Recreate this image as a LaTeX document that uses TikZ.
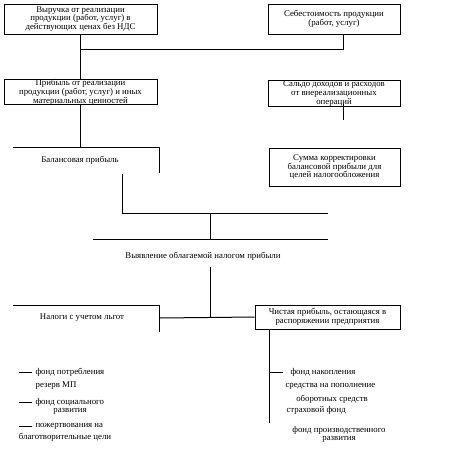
\documentclass[tikz,border=0pt]{standalone}
\usepackage{fontspec}
\setmainfont{Liberation Serif}
\begin{document}
\begin{tikzpicture}[x=0.75pt,y=-0.75pt,line width=0.75pt,
  every node/.style={font=\fontsize{6.6}{6.6}\selectfont,inner sep=0pt,align=center},
  boxnode/.style={draw,minimum width=#1*0.75pt},
  plain/.style={}]
\useasboundingbox (0,0) rectangle (463,458);
% boxes
\node[boxnode=153,minimum height=22.5pt] (b1) at (80.5,19) {Выручка от реализации\\продукции (работ, услуг) в\\действующих ценах без НДС};
\node[boxnode=132,minimum height=22.5pt] (b2) at (334,19) {Себестоимость продукции\\(работ, услуг)};
\node[boxnode=153,minimum height=18pt] (b3) at (80.5,92) {Прибыль от реализации\\продукции (работ, услуг) и иных\\материальных ценностей};
\node[boxnode=132,minimum height=15.75pt] (b4) at (334,93.5) {Сальдо доходов и расходов\\от внереализационных\\операций};
\node[plain] (b5) at (80,160) {Балансовая прибыль};
\node[boxnode=131,minimum height=28.5pt] (b6) at (334.5,167) {Сумма корректировки\\балансовой прибыли для\\целей налогообложения};
\node[plain] (b7) at (203,256) {Выявление облагаемой налогом прибыли};
\node[plain] (b8) at (82,318) {Налоги с учетом льгот};
\node[boxnode=145,minimum height=18pt] (b9) at (327.5,317) {Чистая прибыль, остающаяся в\\распоряжении предприятия};
% left list
\node[anchor=west] (l1) at (35,372) {фонд потребления};
\node (l2) at (56,386) {резерв МП};
\node[anchor=west] (l3) at (35,402) {фонд социального};
\node (l3b) at (70,411) {развития};
\node[anchor=west] (l4) at (35,426) {пожертвования на};
\node (l4b) at (65,437) {благотворительные цели};
\coordinate (d1) at (19,372);
\coordinate (d3) at (19,402);
\coordinate (d4) at (19,426);
\draw (d1) -- ([xshift=-2.25pt]l1.west);
\draw (d3) -- ([xshift=-2.25pt]l3.west);
\draw (d4) -- ([xshift=-2.25pt]l4.west);
% right list
\node[anchor=west] (r1) at (290,372) {фонд накопления};
\node[anchor=west] (r2) at (285,386) {средства на пополнение};
\node (r2b) at (332,399) {оборотных средств};
\node[anchor=west] (r3) at (286,410) {страховой фонд};
\node (r4) at (339,430) {фонд производственного};
\node (r4b) at (339,439) {развития};
% coordinates
\coordinate (c2) at (343,34);
\coordinate (j1) at (80.5,49);
\coordinate (j3) at (80.5,147);
\coordinate (t5l) at (13,147);
\coordinate (t5r) at (159,147);
\coordinate (t5b) at (159,173);
\coordinate (c4) at (343,104);
\coordinate (c4e) at (343,120);
\coordinate (k1) at (122,174);
\coordinate (k2) at (122,213);
\coordinate (k3) at (328,213);
\coordinate (m1) at (210,213);
\coordinate (m2) at (210,239);
\coordinate (t7l) at (93,239);
\coordinate (t7r) at (328,239);
\coordinate (n1) at (210,267);
\coordinate (n2) at (210,318);
\coordinate (n3) at (159,318);
\coordinate (t8l) at (13,305);
\coordinate (t8r) at (159,305);
\coordinate (t8b) at (159,332);
\coordinate (v1) at (269,329);
\coordinate (v2) at (269,423);
\coordinate (v3) at (269,372);
\coordinate (v3e) at (283,372);
% connectors
\draw (b1.south) -- (b3.north);
\draw (j1) -- (j1 -| c2) -- (c2);
\draw (b3.south) -- (j3);
\draw (t5l) -- (t5r) -- (t5b);
\draw (c4) -- (c4e);
\draw (k1) -- (k2) -- (k3);
\draw (m1) -- (m2);
\draw (t7l) -- (t7r);
\draw (n1) -- (n2);
\draw (n3) -- (b9.west);
\draw (t8l) -- (t8r) -- (t8b);
\draw (v1) -- (v2);
\draw (v3) -- (v3e);
\end{tikzpicture}
\end{document}
